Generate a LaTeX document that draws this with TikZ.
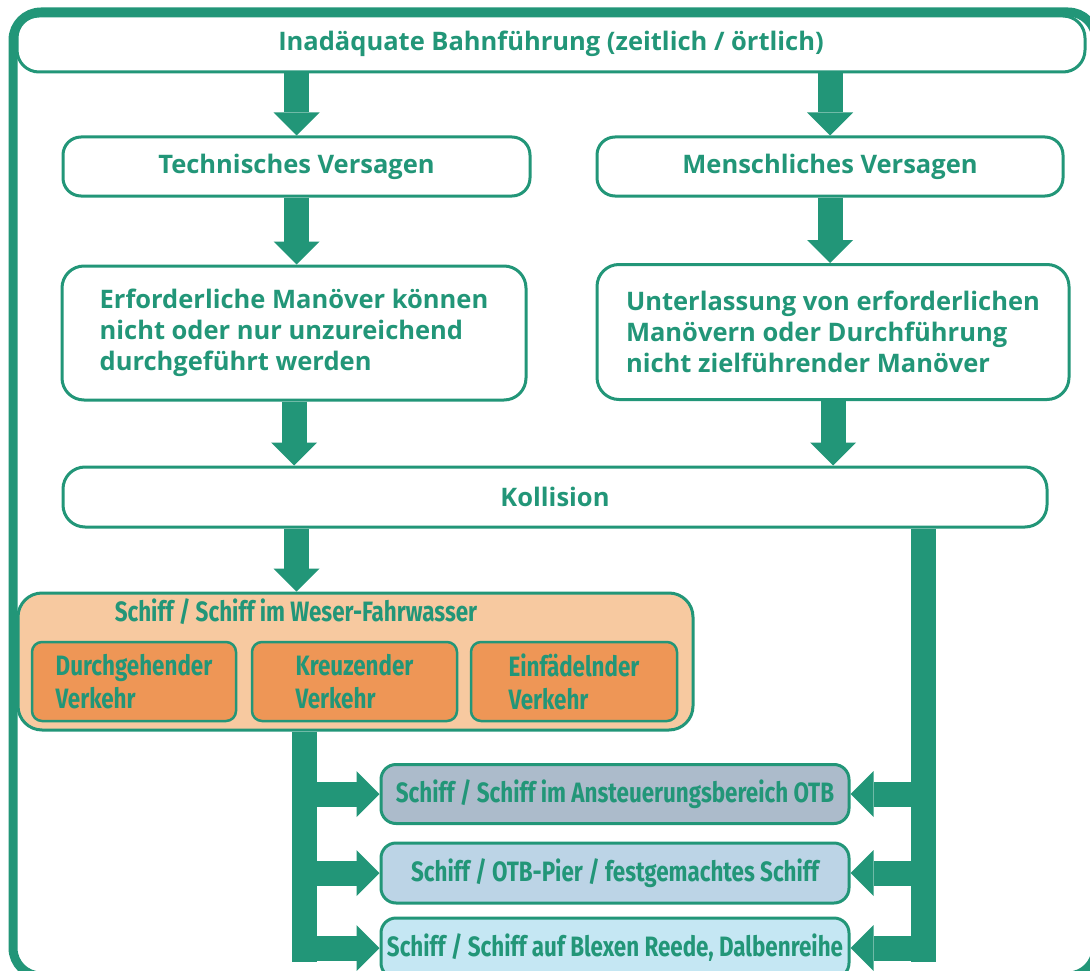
\documentclass[tikz,border=0pt]{standalone}
\usepackage{fontspec}
\usetikzlibrary{arrows.meta}
\newfontfamily\upf{Open Sans}
\newfontfamily\cnf{Fira Sans}[FakeStretch=0.8]
\definecolor{gr}{RGB}{34,150,120}
\definecolor{orl}{RGB}{247,201,160}
\definecolor{ord}{RGB}{238,150,86}
\definecolor{bl1}{RGB}{172,187,203}
\definecolor{bl2}{RGB}{188,212,230}
\definecolor{bl3}{RGB}{197,231,243}
\tikzset{
  wbox/.style={draw=gr, line width=3pt, fill=white, rounded corners=18pt, inner sep=0pt,
    text=gr, font=\upf\bfseries\fontsize{25.5}{31}\selectfont},
  obox/.style={draw=gr, line width=3pt, fill=orl, rounded corners=24pt, inner sep=0pt},
  ibox/.style={draw=gr, line width=2.5pt, fill=ord, rounded corners=10pt, inner sep=0pt,
    text=gr, align=left, font=\cnf\bfseries\fontsize{28}{33}\selectfont},
  lbox/.style={draw=gr, line width=3pt, rounded corners=15pt, inner sep=0pt,
    minimum width=468pt, minimum height=59pt,
    text=gr, font=\cnf\bfseries\fontsize{28}{31}\selectfont},
  ctext/.style={text=gr, inner sep=0pt, font=\cnf\bfseries\fontsize{28}{31}\selectfont},
  barrow/.style={draw=gr, line width=25pt,
    -{Triangle[width=46pt,length=23pt,line width=0pt]}},
  bar/.style={draw=gr, line width=25pt},
  frame/.style={draw=gr, line width=9pt, rounded corners=28pt}
}
\begin{document}
\begin{tikzpicture}[x=1pt,y=-1pt]
\useasboundingbox (0,0) rectangle (1090,971);
\begin{scope}
\clip (0,0) rectangle (1090,971);
\fill[white] (0,0) rectangle (1090,971);
\draw[frame] (13,12) rectangle (1096,976);

% top row
\node[wbox, minimum width=1068pt, minimum height=56pt, rounded corners=22pt] (top) at (551,44) {Inadäquate Bahnführung (zeitlich / örtlich)};
\node[wbox, minimum width=467pt, minimum height=59pt] (tech) at (296.5,166.5) {Technisches Versagen};
\node[wbox, minimum width=466pt, minimum height=59pt] (mensch) at (830,166.5) {Menschliches Versagen};
\node[wbox, minimum width=464pt, minimum height=134pt, rounded corners=22pt, align=left] (erf) at (294,333)
  {Erforderliche Manöver können\\nicht oder nur unzureichend\\durchgeführt werden};
\node[wbox, minimum width=472pt, minimum height=135pt, rounded corners=22pt, align=left] (unt) at (833,332)
  {Unterlassung von erforderlichen\\Manövern oder Durchführung\\nicht zielführender Manöver};
\node[wbox, minimum width=984pt, minimum height=60pt, rounded corners=22pt] (koll) at (555,497) {Kollision};

% orange group
\node[obox, minimum width=675pt, minimum height=137pt] (orange) at (355.5,661.5) {};
\node[ctext, anchor=base] (otitle) at (296,621) {Schiff / Schiff im Weser-Fahrwasser};
\node[ibox, minimum width=204pt, minimum height=79pt] (d1) at (134,681.5) {Durchgehender\\Verkehr};
\node[ibox, minimum width=205pt, minimum height=79pt] (d2) at (354.5,681.5) {Kreuzender\\Verkehr};
\node[ibox, minimum width=206pt, minimum height=79pt] (d3) at (574,681.5) {Einfädelnder\\Verkehr};

% lower right boxes
\node[lbox, fill=bl1] (r1) at (615,794) {Schiff / Schiff im Ansteuerungsbereich OTB};
\node[lbox, fill=bl2, minimum height=60pt] (r2) at (615,873) {Schiff / OTB-Pier / festgemachtes Schiff};
\node[lbox, fill=bl3, minimum height=60pt] (r3) at (615,948) {Schiff / Schiff auf Blexen Reede, Dalbenreihe};

% arrows down
\draw[barrow] (top.south -| tech.north) -- (tech.north);
\draw[barrow] (top.south -| mensch.north) -- (mensch.north);
\draw[barrow] (tech.south) -- (tech.south |- erf.north);
\draw[barrow] (mensch.south) -- (mensch.south |- unt.north);
\draw[barrow] (erf.south) -- (erf.south |- koll.north);
\draw[barrow] (unt.south) -- (unt.south |- koll.north);
\draw[barrow] (koll.south -| tech.south) -- (tech.south |- orange.north);

% left distribution bar
\coordinate (Lx) at (304,962);
\draw[bar] (orange.south -| Lx) -- (Lx);
\draw[barrow] (Lx |- r1.west) -- (r1.west);
\draw[barrow] (Lx |- r2.west) -- (r2.west);
\draw[barrow] (Lx |- r3.west) -- (r3.west);

% right distribution bar
\coordinate (Rx) at (923,962);
\draw[bar] (koll.south -| Rx) -- (Rx);
\draw[barrow] (Rx |- r1.east) -- (r1.east);
\draw[barrow] (Rx |- r2.east) -- (r2.east);
\draw[barrow] (Rx |- r3.east) -- (r3.east);
\end{scope}
\end{tikzpicture}
\end{document}
